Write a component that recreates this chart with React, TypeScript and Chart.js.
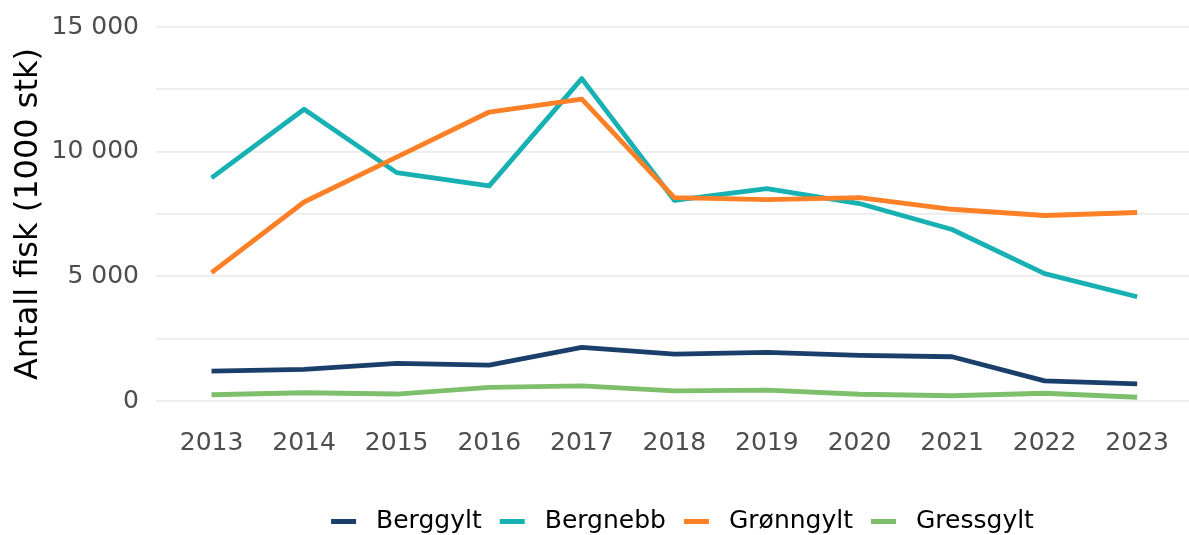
import React, { useEffect, useRef } from "react";
import { Chart, registerables } from "chart.js";

Chart.register(...registerables);

const years = [2013, 2014, 2015, 2016, 2017, 2018, 2019, 2020, 2021, 2022, 2023];
const seriesNames = ["Berggylt", "Bergnebb", "Grønngylt", "Gressgylt"];
const berggylt = [1200, 1270, 1510, 1440, 2150, 1880, 1950, 1830, 1775, 810, 690];
const bergnebb = [8950, 11700, 9160, 8630, 12930, 8050, 8520, 7920, 6880, 5110, 4180];
const gronngylt = [5150, 7980, 9780, 11590, 12110, 8160, 8080, 8160, 7690, 7440, 7560];
const gressgylt = [250, 330, 280, 550, 610, 410, 440, 270, 210, 310, 150];
const yTickValues = [0, 2500, 5000, 7500, 10000, 12500, 15000];
const yTitle = "Antall fisk (1000 stk)";

const colors = ["#1b3f6b", "#17b1b4", "#fd7f26", "#7dbf6b"];
const FONT = "'DejaVu Sans', sans-serif";

function fmt(v: number): string {
  const s = String(Math.round(v));
  return s.replace(/\B(?=(\d{3})+(?!\d))/g, " ");
}

const legendPlugin = {
  id: "customLegend",
  afterDraw(chart: any) {
    const ctx = chart.ctx;
    const ds = chart.data.datasets;
    ctx.save();
    ctx.font = `25px ${FONT}`;
    const keyW = 25;
    const keyGap = 20;
    const itemGap = 18;
    const widths = ds.map((d: any) => ctx.measureText(d.label).width);
    let total = 0;
    widths.forEach((w: number, i: number) => {
      total += keyW + keyGap + w + (i < widths.length - 1 ? itemGap : 0);
    });
    const center = (chart.chartArea.left + chart.chartArea.right) / 2 + 10;
    let x = center - total / 2;
    const y = 521.5;
    ds.forEach((d: any, i: number) => {
      ctx.fillStyle = d.borderColor;
      ctx.fillRect(x, y - 2.5, keyW, 5);
      x += keyW + keyGap;
      ctx.fillStyle = "#000000";
      ctx.textBaseline = "middle";
      ctx.textAlign = "left";
      ctx.fillText(d.label, x, y);
      x += widths[i] + itemGap;
    });
    ctx.restore();
  },
};

export default function App() {
  const ref = useRef<HTMLCanvasElement | null>(null);
  useEffect(() => {
    if (!ref.current) return;
    const all = [berggylt, bergnebb, gronngylt, gressgylt];
    const chart = new Chart(ref.current, {
      type: "line",
      data: {
        datasets: all.map((vals, i) => ({
          label: seriesNames[i],
          data: years.map((yr, j) => ({ x: yr, y: vals[j] })),
          borderColor: colors[i],
          backgroundColor: colors[i],
          borderWidth: 4.8,
          pointRadius: 0,
          borderJoinStyle: "round" as const,
          borderCapStyle: "butt" as const,
          tension: 0,
          order: 4 - i,
        })),
      },
      options: {
        responsive: false,
        animation: false,
        devicePixelRatio: 1,
        layout: { padding: { top: 8.3, left: 0, right: 0, bottom: 0 } },
        plugins: {
          legend: { display: false },
          tooltip: { enabled: false },
        },
        scales: {
          x: {
            type: "linear",
            min: 2012.4,
            max: 2023.56,
            grid: { display: false, drawTicks: false },
            border: { display: false },
            afterBuildTicks: (scale: any) => {
              scale.ticks = years.map((v) => ({ value: v }));
            },
            afterFit: (scale: any) => {
              scale.height = 115.3;
              scale.paddingLeft = 0;
              scale.paddingRight = 0;
            },
            ticks: {
              autoSkip: false,
              maxRotation: 0,
              padding: 9,
              color: "#4d4d4d",
              font: { family: FONT, size: 25 },
              callback: (v: any) => String(v),
            },
          },
          y: {
            type: "linear",
            min: -750,
            max: 15750,
            grid: { color: "#ebebeb", lineWidth: 1.8, drawTicks: false },
            border: { display: false },
            afterBuildTicks: (scale: any) => {
              scale.ticks = yTickValues.map((v) => ({ value: v }));
            },
            afterFit: (scale: any) => {
              scale.width = 156;
              scale.paddingTop = 0;
              scale.paddingBottom = 0;
            },
            ticks: {
              padding: 17,
              color: "#4d4d4d",
              font: { family: FONT, size: 25 },
              callback: (v: any) => (Number(v) % 5000 === 0 ? fmt(Number(v)) : ""),
            },
            title: {
              display: true,
              text: yTitle,
              color: "#000000",
              font: { family: FONT, size: 32 },
              padding: { top: 9, bottom: 0 },
            },
          },
        },
      },
      plugins: [legendPlugin],
    });
    return () => chart.destroy();
  }, []);
  return (
    <div style={{ position: "absolute", left: 0, top: 0, width: 1189, height: 535, background: "#ffffff" }}>
      <canvas ref={ref} width={1189} height={535} />
    </div>
  );
}
